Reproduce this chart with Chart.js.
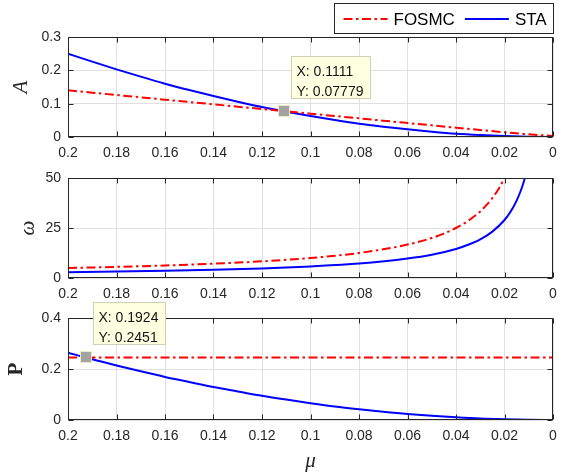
<!DOCTYPE html>
<html>
<head>
<meta charset="utf-8">
<script src="https://cdn.jsdelivr.net/npm/chart.js@4.4.0/dist/chart.umd.min.js"></script>
<style>
  html, body { margin: 0; padding: 0; background: #fff; }
  #wrap { position: relative; width: 571px; height: 474px; }
  #wrap canvas { position: absolute; left: 0; top: 0; }
</style>
</head>
<body>
<div id="wrap">
  <canvas id="ampChart" width="571" height="474"></canvas>
  <canvas id="freqChart" width="571" height="474"></canvas>
  <canvas id="powChart" width="571" height="474"></canvas>
</div>
<script>
const seriesNames = ["FOSMC", "STA"];

// mu grid shared by the amplitude and power curves
const mu = [0.2, 0.19, 0.18, 0.17, 0.16, 0.15, 0.14, 0.13, 0.12, 0.11, 0.1,
            0.09, 0.08, 0.07, 0.06, 0.05, 0.04, 0.03, 0.02, 0.01, 0];

// Amplitude A
const ampFosmc = [0.14, 0.133, 0.126, 0.119, 0.112, 0.105, 0.098, 0.091, 0.084, 0.077, 0.07,
                  0.063, 0.056, 0.049, 0.042, 0.035, 0.028, 0.021, 0.014, 0.008, 0.003];
const ampSta = [0.25, 0.226, 0.203, 0.181, 0.16, 0.141, 0.123, 0.106, 0.09, 0.076, 0.063,
                0.051, 0.04, 0.031, 0.023, 0.016, 0.01, 0.006, 0.003, 0.001, 0];

// Frequency omega (curves stop where they leave the 0..50 window)
const muFreqFosmc = [0.2, 0.18, 0.16, 0.14, 0.12, 0.1, 0.08, 0.06, 0.05, 0.045,
                     0.04, 0.035, 0.03, 0.0275, 0.025, 0.0225, 0.02];
const freqFosmc = [5, 5.56, 6.25, 7.14, 8.33, 10, 12.5, 16.7, 20, 22.2,
                   25, 28.6, 33.3, 36.4, 40, 44.4, 50];
const muFreqSta = [0.2, 0.18, 0.16, 0.14, 0.12, 0.1, 0.08, 0.06, 0.05, 0.04,
                   0.035, 0.03, 0.025, 0.02, 0.0175, 0.015, 0.0135, 0.0125, 0.0116];
const freqSta = [2.9, 3.2, 3.6, 4.1, 4.8, 5.8, 7.2, 9.7, 11.6, 14.5,
                 16.6, 19.3, 23.2, 29, 33.1, 38.7, 43, 46.4, 50];

// Power P
const powFosmc = [0.2451, 0.2451, 0.2451, 0.2451, 0.2451, 0.2451, 0.2451, 0.2451, 0.2451, 0.2451, 0.2451,
                  0.2451, 0.2451, 0.2451, 0.2451, 0.2451, 0.2451, 0.2451, 0.2451, 0.2451, 0.2451];
const powSta = [0.264, 0.238, 0.214, 0.191, 0.169, 0.149, 0.129, 0.112, 0.095, 0.08, 0.066,
                0.053, 0.042, 0.032, 0.024, 0.017, 0.011, 0.006, 0.003, 0.001, 0];

// Data tips [x, y]
const ampTip = [0.1111, 0.07779];
const powTip = [0.1924, 0.2451];

const ink = "#262626";
const gridColor = "#e0e0e0";
const sansFamily = '"Liberation Sans", Arial, Helvetica, sans-serif';
const serifFamily = '"Liberation Serif", "Times New Roman", serif';

const fmtTick = (v) => String(Number(v.toFixed(4)));
const toPoints = (xs, ys) => xs.map((x, i) => ({ x: x, y: ys[i] }));

function fosmcSet(points) {
  return {
    label: seriesNames[0],
    data: points,
    borderColor: "#ff0000",
    borderDash: [9, 3.5, 2.5, 3.5],
  };
}
function staSet(points) {
  return {
    label: seriesNames[1],
    data: points,
    borderColor: "#0000ff",
    borderDash: [],
  };
}

// axes box with MATLAB-style inward ticks
const framePlugin = {
  id: "frame",
  afterDatasetsDraw(chart) {
    const { ctx, chartArea: a, scales } = chart;
    const L = Math.round(a.left) + 0.5, R = Math.round(a.right) - 0.5;
    const T = Math.round(a.top) + 0.5, B = Math.round(a.bottom) - 0.5;
    ctx.save();
    ctx.strokeStyle = ink;
    ctx.lineWidth = 1;
    ctx.strokeRect(L, T, R - L, B - T);
    ctx.beginPath();
    scales.x.ticks.forEach((t) => {
      const px = Math.round(scales.x.getPixelForValue(t.value)) + 0.5;
      ctx.moveTo(px, B); ctx.lineTo(px, B - 5);
      ctx.moveTo(px, T); ctx.lineTo(px, T + 5);
    });
    scales.y.ticks.forEach((t) => {
      const py = Math.round(scales.y.getPixelForValue(t.value)) + 0.5;
      ctx.moveTo(L, py); ctx.lineTo(L + 5, py);
      ctx.moveTo(R, py); ctx.lineTo(R - 5, py);
    });
    ctx.stroke();
    ctx.restore();
  },
};

// data tip: grey square on the point plus a pale yellow label box
const tipPlugin = {
  id: "dataTip",
  afterDraw(chart, args, opts) {
    const { ctx, scales } = chart;
    const px = scales.x.getPixelForValue(opts.x);
    const py = scales.y.getPixelForValue(opts.y);
    ctx.save();
    ctx.fillStyle = "#a3a3a3";
    ctx.fillRect(Math.round(px) - 5, Math.round(py) - 5, 10, 10);
    ctx.strokeStyle = "#ecebc4";
    ctx.lineWidth = 1;
    ctx.strokeRect(Math.round(px) - 5.5, Math.round(py) - 5.5, 11, 11);

    ctx.font = "14px " + sansFamily;
    const lines = ["X: " + opts.x, "Y: " + opts.y];
    const w = Math.round(Math.max(...lines.map((t) => ctx.measureText(t).width)) + 12);
    const h = 42;
    const left = Math.round(px + 7) + 0.5;
    const top = Math.round(py - 13) - h + 0.5;
    ctx.fillStyle = "#ffffe1";
    ctx.fillRect(left, top, w, h);
    ctx.strokeStyle = "#cfcfb8";
    ctx.strokeRect(left, top, w, h);
    ctx.fillStyle = "#141414";
    ctx.textBaseline = "middle";
    ctx.textAlign = "left";
    ctx.fillText(lines[0], left + 5, top + 16);
    ctx.fillText(lines[1], left + 5, top + 35.5);
    ctx.restore();
  },
};

// boxed legend above the first panel
const legendPlugin = {
  id: "boxLegend",
  afterDraw(chart, args, opts) {
    const { ctx } = chart;
    ctx.save();
    ctx.fillStyle = "#fff";
    ctx.fillRect(opts.left, opts.top, opts.right - opts.left, opts.bottom - opts.top);
    ctx.strokeStyle = ink;
    ctx.lineWidth = 1;
    ctx.strokeRect(opts.left, opts.top, opts.right - opts.left, opts.bottom - opts.top);
    ctx.font = "17px " + sansFamily;
    ctx.textBaseline = "middle";
    let x = opts.left + 9;
    const yLine = 19, yText = 20;
    chart.data.datasets.forEach((ds) => {
      ctx.strokeStyle = ds.borderColor;
      ctx.lineWidth = 2;
      ctx.setLineDash(ds.borderDash);
      ctx.beginPath();
      ctx.moveTo(x, yLine);
      ctx.lineTo(x + 44, yLine);
      ctx.stroke();
      ctx.setLineDash([]);
      x += 50;
      ctx.fillStyle = "#000";
      ctx.fillText(ds.label, x, yText);
      x += ctx.measureText(ds.label).width + 10;
    });
    ctx.restore();
  },
};

function buildPanel(canvasId, cfg) {
  return new Chart(document.getElementById(canvasId), {
    type: "line",
    data: { datasets: cfg.datasets },
    options: {
      responsive: false,
      animation: false,
      events: [],
      layout: { padding: { left: 0, right: 18, top: cfg.top, bottom: cfg.bottom } },
      elements: {
        point: { radius: 0 },
        line: { borderWidth: 2, cubicInterpolationMode: "monotone", fill: false },
      },
      plugins: {
        legend: { display: false },
        tooltip: { enabled: false },
        dataTip: cfg.tip ? { x: cfg.tip[0], y: cfg.tip[1] } : false,
        boxLegend: cfg.legend || false,
      },
      scales: {
        x: {
          type: "linear",
          min: 0,
          max: 0.2,
          reverse: true,
          afterFit: (s) => { s.height = cfg.xHeight; },
          ticks: {
            stepSize: 0.02,
            padding: 8,
            color: ink,
            font: { family: sansFamily, size: 14 },
            callback: fmtTick,
            maxRotation: 0,
            autoSkip: false,
          },
          grid: { color: gridColor, drawTicks: false },
          border: { display: false },
          title: cfg.xTitle
            ? {
                display: true,
                text: cfg.xTitle,
                color: ink,
                font: { family: serifFamily, style: "italic", size: 21 },
                padding: { top: 0, bottom: 0 },
              }
            : { display: false },
        },
        y: {
          type: "linear",
          min: cfg.yMin,
          max: cfg.yMax,
          afterFit: (s) => { s.width = 68; },
          ticks: {
            stepSize: cfg.yStep,
            padding: 7,
            color: ink,
            font: { family: sansFamily, size: 14 },
            callback: fmtTick,
          },
          grid: { color: gridColor, drawTicks: false },
          border: { display: false },
          title: {
            display: true,
            text: cfg.yTitle,
            color: ink,
            font: cfg.yTitleFont,
            padding: { top: cfg.yTitlePad, bottom: 0 },
          },
        },
      },
    },
    plugins: [framePlugin, tipPlugin, legendPlugin],
  });
}

buildPanel("ampChart", {
  datasets: [fosmcSet(toPoints(mu, ampFosmc)), staSet(toPoints(mu, ampSta))],
  top: 37, bottom: 312, xHeight: 25,
  yMin: 0, yMax: 0.3, yStep: 0.1,
  yTitle: "A",
  yTitleFont: { family: serifFamily, style: "italic", size: 21 },
  yTitlePad: 9,
  tip: ampTip,
  legend: { left: 334.5, top: 3.5, right: 553.5, bottom: 33.5 },
});

buildPanel("freqChart", {
  datasets: [fosmcSet(toPoints(muFreqFosmc, freqFosmc)), staSet(toPoints(muFreqSta, freqSta))],
  top: 178, bottom: 171, xHeight: 25,
  yMin: 0, yMax: 50, yStep: 25,
  yTitle: "ω",
  yTitleFont: { family: serifFamily, style: "italic", size: 21 },
  yTitlePad: 16,
});

buildPanel("powChart", {
  datasets: [fosmcSet(toPoints(mu, powFosmc)), staSet(toPoints(mu, powSta))],
  top: 318, bottom: 0, xHeight: 54,
  yMin: 0, yMax: 0.4, yStep: 0.2,
  yTitle: "P",
  yTitleFont: { family: serifFamily, weight: "bold", size: 21 },
  yTitlePad: 4,
  xTitle: "μ",
  tip: powTip,
});
</script>
</body>
</html>
